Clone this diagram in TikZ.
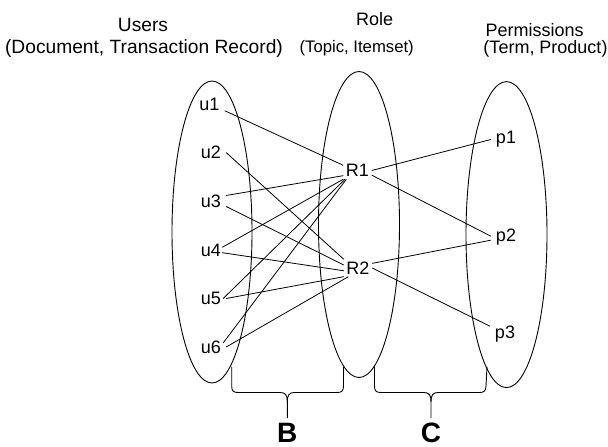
\documentclass[tikz,border=0pt]{standalone}
\usepackage{fontspec}
\setmainfont{Liberation Sans}
\usetikzlibrary{shapes.geometric}
\begin{document}
\begin{tikzpicture}[x=1pt,y=-1pt,
  setoval/.style={draw, ellipse, line width=0.9pt, inner sep=0pt},
  heading/.style={font=\fontsize{18}{21}\selectfont, inner sep=0pt, anchor=base},
  elem/.style={font=\fontsize{18}{21}\selectfont, inner sep=0pt, minimum width=30pt, minimum height=13pt},
  rolebox/.style={font=\fontsize{18}{21}\selectfont, inner sep=0pt, minimum width=28pt, minimum height=17pt},
  link/.style={line width=0.8pt},
  bracepath/.style={line width=0.9pt},
  tagtext/.style={font=\bfseries\fontsize{28}{30}\selectfont, inner sep=0pt, text depth=0pt, anchor=base}]
\useasboundingbox (0,0) rectangle (608,447);

% the three sets
\node[setoval, minimum width=80pt, minimum height=302pt] (users) at (212,232) {};
\node[setoval, minimum width=81pt, minimum height=306pt] (roles) at (359,224.5) {};
\node[setoval, minimum width=81pt, minimum height=306pt] (perms) at (506.5,234.6) {};

% headings
\node[heading, font=\fontsize{19.2}{22}\selectfont] (hu1) at (143,31.7) {Users};
\node[heading, font=\fontsize{19.2}{22}\selectfont] (hu2) at (144,53) {(Document, Transaction Record)};
\node[heading] (hr1) at (374.7,25) {Role};
\node[heading, font=\fontsize{16.7}{20}\selectfont] (hr2) at (356.7,52.7) {(Topic, Itemset)};
\node[heading] (hp1) at (534.7,36.7) {Permissions};
\node[heading] (hp2) at (545.5,53) {(Term, Product)};

% users
\node[elem] (u1) at (209.5,104) {u1};
\node[elem] (u2) at (211,152.6) {u2};
\node[elem] (u3) at (211,201) {u3};
\node[elem] (u4) at (211,250) {u4};
\node[elem] (u5) at (211,298.5) {u5};
\node[elem] (u6) at (211,347) {u6};

% roles
\node[rolebox] (R1) at (357.5,170.5) {R1};
\node[rolebox] (R2) at (358,268) {R2};

% permissions
\node[elem] (p1) at (506,139.5) {p1};
\node[elem] (p2) at (506,237.5) {p2};
\node[elem] (p3) at (505,334.5) {p3};

% user -> role assignments
\draw[link] (u1.south east) -- (R1.160);
\draw[link] (u2.east) -- (R2.north west);
\draw[link] (u3.20) -- (R1.200);
\draw[link] (u3.340) -- (R2.168);
\draw[link] ([xshift=-4pt]u4.10) -- (R1.south west);
\draw[link] ([xshift=-4pt]u4.350) -- (R2.191);
\draw[link] ([xshift=-3pt]u5.east) -- (R1.215);
\draw[link] (u5.east) -- (R2.south west);
\draw[link] ([xshift=-3pt]u6.15) -- (R1.218);
\draw[link] (u6.east) -- (R2.222);

% role -> permission assignments
\draw[link] (R1.east) -- (p1.west);
\draw[link] (R1.342) -- (p2.175);
\draw[link] (R2.18) -- (p2.190);
\draw[link] (R2.east) -- (p3.north west);

% brace B
\draw[bracepath] (231.7,366.7) -- (231.7,386) .. controls (231.7,391) and (233.5,392.5) .. (238,392.5)
  -- (280,392.5) .. controls (285.5,392.5) and (287.3,395) .. (287.3,402) -- (287.3,418);
\draw[bracepath] (343.5,366.7) -- (343.5,386) .. controls (343.5,391) and (341.7,392.5) .. (337,392.5)
  -- (294.6,392.5) .. controls (289.1,392.5) and (287.3,395) .. (287.3,402);
\node[tagtext] (B) at (287.3,442) {B};

% brace C
\draw[bracepath] (374.5,366.7) -- (374.5,386) .. controls (374.5,391) and (376.3,392.5) .. (381,392.5)
  -- (423.7,392.5) .. controls (429.2,392.5) and (431,395) .. (431,402) -- (431,418);
\draw[bracepath] (487,366.7) -- (486,386) .. controls (485.8,391) and (484,392.5) .. (479.5,392.5)
  -- (438.3,392.5) .. controls (432.8,392.5) and (431,395) .. (431,402);
\node[tagtext] (C) at (431,442) {C};
\end{tikzpicture}
\end{document}
